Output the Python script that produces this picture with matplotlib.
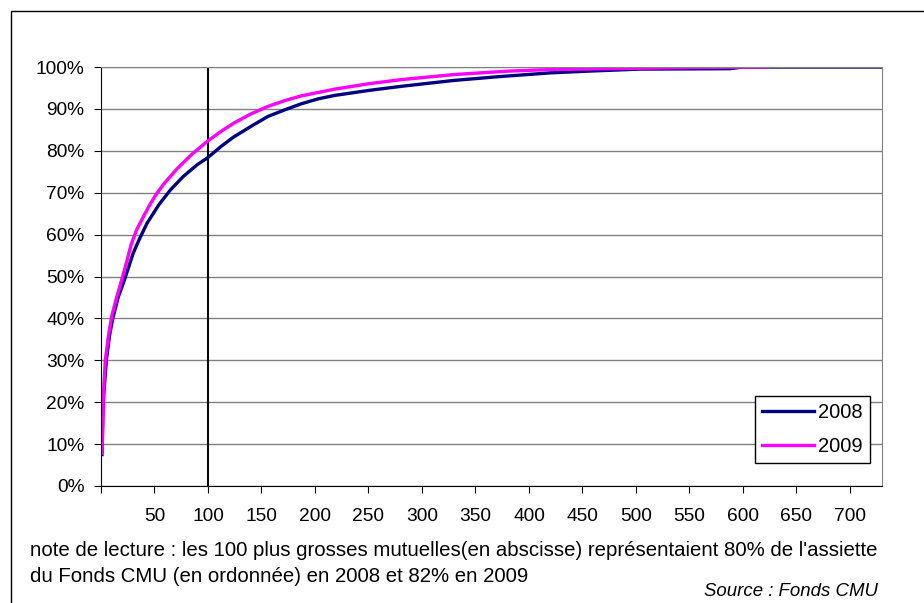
import matplotlib
matplotlib.use('Agg')
import matplotlib.pyplot as plt
from matplotlib.patches import Rectangle

plt.rcParams['font.family'] = ['Liberation Sans', 'DejaVu Sans']

# cumulative share of the Fonds CMU base, by rank of mutuelle
rank_2008 = [1, 2, 5, 8, 11, 16, 21, 30, 36, 43, 54, 65, 77, 90, 100, 112, 124,
             140, 156, 172, 187, 203, 218, 250, 281, 330, 372, 420, 454, 504,
             588, 600, 730]
pct_2008 = [7.5, 20, 30, 36, 40, 45, 48.5, 55.5, 59, 62.7, 67.1, 70.7, 73.9, 76.7,
            78.4, 81, 83.3, 85.8, 88.2, 89.8, 91.2, 92.4, 93.2, 94.4, 95.4, 96.8,
            97.7, 98.6, 99.0, 99.5, 99.6, 100, 100]

rank_2009 = [1, 2, 4, 7, 10, 14, 18, 24, 28, 33, 40, 46, 52, 59, 71, 85, 100, 112,
             124, 140, 156, 172, 187, 218, 250, 281, 330, 380, 420, 504, 560, 623]
pct_2009 = [7.8, 20.5, 30, 36, 40.5, 44.5, 48, 53.5, 57.5, 61, 64.5, 67.3, 69.8,
            72.2, 75.7, 79.2, 82.4, 84.6, 86.6, 88.8, 90.6, 92, 93.1, 94.7, 96, 97,
            98.2, 99.0, 99.4, 99.7, 99.9, 100]

x_ticks = list(range(0, 701, 50))
x_labels = [''] + [str(v) for v in x_ticks[1:]]
y_ticks = list(range(0, 101, 10))
y_labels = [f'{v}%' for v in y_ticks]

note_lines = ["note de lecture : les 100 plus grosses mutuelles(en abscisse) représentaient 80% de l'assiette",
              "du Fonds CMU (en ordonnée) en 2008 et 82% en 2009"]
source = 'Source : Fonds CMU'

fig = plt.figure(figsize=(9.24, 6.03), dpi=100)
ax = fig.add_axes([101 / 924, 1 - 486 / 603, 781 / 924, 419 / 603])

# outer frame, open on the right and bottom like the original crop
fig.patches.append(Rectangle((11 / 924, -0.05), 1.0, 1 - 11 / 603 + 0.05,
                             transform=fig.transFigure, fill=False,
                             edgecolor='black', linewidth=1))

ax.set_xlim(0, 730)
ax.set_ylim(0, 100)
ax.yaxis.grid(True, color='#808080', linewidth=1)
ax.set_axisbelow(True)

ax.plot([100, 100], [0, 100], color='black', linewidth=1.4)
ax.plot(rank_2008, pct_2008, color='#000080', linewidth=2.4, label='2008')
ax.plot(rank_2009, pct_2009, color='#FF00FF', linewidth=2.4, label='2009')

ax.set_xticks(x_ticks)
ax.set_xticklabels(x_labels, fontsize=13.8)
ax.set_yticks(y_ticks)
ax.set_yticklabels(y_labels, fontsize=13.8)
ax.tick_params(axis='x', direction='out', length=5, pad=11)
ax.tick_params(axis='y', direction='out', length=5, pad=7)

for side in ['top', 'right']:
    ax.spines[side].set_color('#808080')
for side in ['left', 'bottom']:
    ax.spines[side].set_color('black')

leg = ax.legend(loc='lower right', bbox_to_anchor=(0.9846, 0.0549), borderaxespad=0,
                fontsize=14.5, frameon=True, fancybox=False, handlelength=2.6,
                borderpad=0.35, labelspacing=0.75, handletextpad=0.2)
leg.get_frame().set_edgecolor('black')
leg.get_frame().set_linewidth(1)
leg.get_frame().set_alpha(1)

fig.text(30 / 924, 1 - 550 / 603, note_lines[0], fontsize=14.65, va='center', ha='left')
fig.text(30 / 924, 1 - 577 / 603, note_lines[1], fontsize=14.65, va='center', ha='left')
fig.text(878 / 924, 1 - 591 / 603, source, fontsize=13.4, style='italic',
         va='center', ha='right')

fig.savefig('out.png', dpi=100)
